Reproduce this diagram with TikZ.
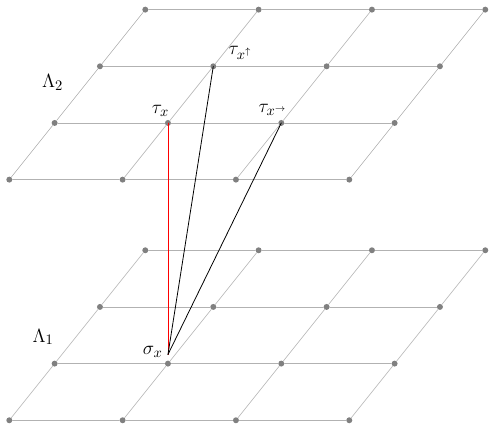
\documentclass[tikz,border=0pt]{standalone}
\begin{document}
\begin{tikzpicture}[>=stealth,line join=round,line cap=round,font=\fontsize{15}{18}\selectfont]
		\tikzset{site/.style={circle,fill=gray,inner sep=0pt,minimum size=4.5pt},
			bond/.style={gray!60,line width=0.45pt},
			lbl/.style={inner sep=0pt,anchor=base west}}
		\useasboundingbox (-0.246,-0.707) rectangle (12.884,11.125);
		\def\a{3};
		\def\dx{1.2};
		\def\dy{1.5};
		\def\h{6.37};
		\foreach \l/\z in {1/0,2/\h}{
			\foreach \i in {0,...,3}{
				\foreach \j in {0,...,3}{
					\node[site] (L\l-\i-\j) at ({\a*\i+\dx*\j},{\z+\dy*\j}) {};
				}
			}
		}
		\foreach \l in {1,2}{
			\foreach \i in {0,...,3}{
				\foreach \j [evaluate=\j as \k using int(\j+1)] in {0,1,2}{
					\draw[bond] (L\l-\i-\j)--(L\l-\i-\k);
					\draw[bond] (L\l-\j-\i)--(L\l-\k-\i);
				}
			}
		}
		\coordinate (s) at ([yshift=0.24cm]L1-1-1.center);
		\draw[red,line width=0.6pt] (L2-1-1.center)--(s);
		\draw[line width=0.6pt] (s)--(L2-1-2.center);
		\draw[line width=0.6pt] (s)--(L2-2-1.center);
		\node[lbl] (lam2) at ([shift={(-0.34,0.93)}]L2-0-1.center) {$\Lambda_2$};
		\node[lbl] (lam1) at ([shift={(-0.59,0.57)}]L1-0-1.center) {$\Lambda_1$};
		\node[lbl] (tx) at ([shift={(-0.43,0.26)}]L2-1-1.center) {$\tau_x$};
		\node[lbl] (txu) at ([shift={(0.40,0.30)}]L2-1-2.center) {$\tau_{x^\uparrow}$};
		\node[lbl] (txr) at ([shift={(-0.61,0.27)}]L2-2-1.center) {$\tau_{x^\rightarrow}$};
		\node[lbl] (sx) at ([shift={(-0.67,0.23)}]L1-1-1.center) {$\sigma_x$};
		\end{tikzpicture}
\end{document}
